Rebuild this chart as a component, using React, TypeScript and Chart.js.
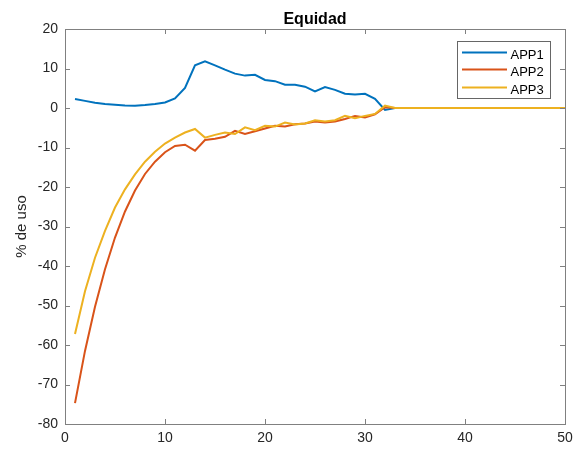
import React, { useEffect, useRef } from "react";
import { Chart, registerables } from "chart.js";

Chart.register(...registerables);

const xValues: number[] = Array.from({ length: 50 }, (_, i) => i + 1);

const app1: number[] = [
  2.3, 1.8, 1.35, 1.0, 0.8, 0.65, 0.6, 0.75, 1.0, 1.4,
  2.4, 5.1, 10.8, 11.8, 10.8, 9.7, 8.7, 8.2, 8.4, 7.1,
  6.8, 5.9, 5.9, 5.4, 4.2, 5.3, 4.6, 3.6, 3.4, 3.6,
  2.3, -0.5, 0, 0, 0, 0, 0, 0, 0, 0,
  0, 0, 0, 0, 0, 0, 0, 0, 0, 0,
];

const app2: number[] = [
  -74.7, -61.5, -50.3, -40.8, -32.8, -26.2, -20.9, -16.7, -13.6, -11.2,
  -9.6, -9.3, -10.8, -8.1, -7.8, -7.3, -5.8, -6.6, -5.9, -5.2,
  -4.5, -4.7, -4.1, -3.9, -3.4, -3.7, -3.4, -2.8, -2.0, -2.4,
  -1.6, 0.2, 0, 0, 0, 0, 0, 0, 0, 0,
  0, 0, 0, 0, 0, 0, 0, 0, 0, 0,
];

const app3: number[] = [
  -57.2, -46.4, -37.9, -31.1, -25.2, -20.6, -16.8, -13.6, -11.1, -9.0,
  -7.5, -6.2, -5.3, -7.5, -6.8, -6.2, -6.6, -4.9, -5.6, -4.5,
  -4.7, -3.7, -4.2, -3.9, -3.1, -3.4, -3.1, -2.0, -2.6, -2.0,
  -1.5, 0.6, 0, 0, 0, 0, 0, 0, 0, 0,
  0, 0, 0, 0, 0, 0, 0, 0, 0, 0,
];

const seriesNames: string[] = ["APP1", "APP2", "APP3"];
const seriesColors: string[] = ["#0072BD", "#D95319", "#EDB120"];
const titleText = "Equidad";
const yLabelText = "% de uso";

const FONT = "'Liberation Sans', Arial, Helvetica, sans-serif";

const decorPlugin = {
  id: "matlabDecor",
  afterDraw(chart: any) {
    const { ctx, chartArea } = chart;
    const { left, right, top, bottom } = chartArea;
    const xs = chart.scales.x;
    const ys = chart.scales.y;
    ctx.save();
    // frame
    ctx.strokeStyle = "#808080";
    ctx.lineWidth = 1;
    ctx.strokeRect(Math.round(left) + 0.5, Math.round(top) + 0.5, Math.round(right - left), Math.round(bottom - top));
    // inward ticks
    const tl = 5;
    ctx.beginPath();
    xs.ticks.forEach((t: any) => {
      const px = Math.round(xs.getPixelForValue(t.value)) + 0.5;
      ctx.moveTo(px, bottom);
      ctx.lineTo(px, bottom - tl);
      ctx.moveTo(px, top);
      ctx.lineTo(px, top + tl);
    });
    ys.ticks.forEach((t: any) => {
      const py = Math.round(ys.getPixelForValue(t.value)) + 0.5;
      ctx.moveTo(left, py);
      ctx.lineTo(left + tl, py);
      ctx.moveTo(right, py);
      ctx.lineTo(right - tl, py);
    });
    ctx.stroke();
    // title
    ctx.fillStyle = "#000000";
    ctx.font = `bold 16px ${FONT}`;
    ctx.textAlign = "center";
    ctx.textBaseline = "alphabetic";
    ctx.fillText(titleText, (left + right) / 2, 23.5);
    // y label
    ctx.save();
    ctx.translate(22, (top + bottom) / 2);
    ctx.rotate(-Math.PI / 2);
    ctx.fillStyle = "#262626";
    ctx.font = `15px ${FONT}`;
    ctx.textBaseline = "middle";
    ctx.fillText(yLabelText, 0, 0);
    ctx.restore();
    // legend
    const bx = 457.5, by = 41.5, bw = 93, bh = 57;
    ctx.fillStyle = "#ffffff";
    ctx.fillRect(bx, by, bw, bh);
    ctx.strokeStyle = "#666666";
    ctx.lineWidth = 1;
    ctx.strokeRect(bx, by, bw, bh);
    const rows = [52.5, 69.5, 87.5];
    const baselines = [59, 76, 93.5];
    ctx.font = `13px ${FONT}`;
    ctx.textAlign = "left";
    ctx.textBaseline = "alphabetic";
    seriesNames.forEach((name, i) => {
      ctx.strokeStyle = seriesColors[i];
      ctx.lineWidth = 2;
      ctx.beginPath();
      ctx.moveTo(462, rows[i]);
      ctx.lineTo(507, rows[i]);
      ctx.stroke();
      ctx.fillStyle = "#000000";
      ctx.fillText(name, 510.5, baselines[i]);
    });
    ctx.restore();
  },
};

export default function App() {
  const canvasRef = useRef<HTMLCanvasElement | null>(null);

  useEffect(() => {
    document.body.style.margin = "0";
    const canvas = canvasRef.current;
    if (!canvas) return;
    const datasets = [app1, app2, app3].map((arr, i) => ({
      label: seriesNames[i],
      data: arr.map((v, j) => ({ x: xValues[j], y: v })),
      borderColor: seriesColors[i],
      backgroundColor: seriesColors[i],
      borderWidth: 2,
      pointRadius: 0,
      tension: 0,
      fill: false,
      order: 3 - i,
    }));
    const chart = new Chart(canvas, {
      type: "line",
      data: { datasets },
      options: {
        animation: false,
        responsive: false,
        maintainAspectRatio: false,
        layout: { padding: { top: 29, right: 15, left: 0, bottom: 0 } },
        plugins: {
          legend: { display: false },
          title: { display: false },
          tooltip: { enabled: false },
        },
        scales: {
          x: {
            type: "linear",
            min: 0,
            max: 50,
            afterFit: (s: any) => { s.height = 26; },
            grid: { display: false, drawTicks: false },
            border: { display: false },
            ticks: {
              stepSize: 10,
              padding: 6,
              color: "#262626",
              font: { family: FONT, size: 14 },
              maxRotation: 0,
            },
          },
          y: {
            type: "linear",
            min: -80,
            max: 20,
            afterFit: (s: any) => { s.width = 65; },
            grid: { display: false, drawTicks: false },
            border: { display: false },
            ticks: {
              stepSize: 10,
              padding: 7,
              color: "#262626",
              font: { family: FONT, size: 14 },
            },
          },
        },
      },
      plugins: [decorPlugin],
    });
    return () => chart.destroy();
  }, []);

  return (
    <div style={{ width: 580, height: 450, background: "#ffffff" }}>
      <canvas ref={canvasRef} width={580} height={450} style={{ display: "block" }} />
    </div>
  );
}
